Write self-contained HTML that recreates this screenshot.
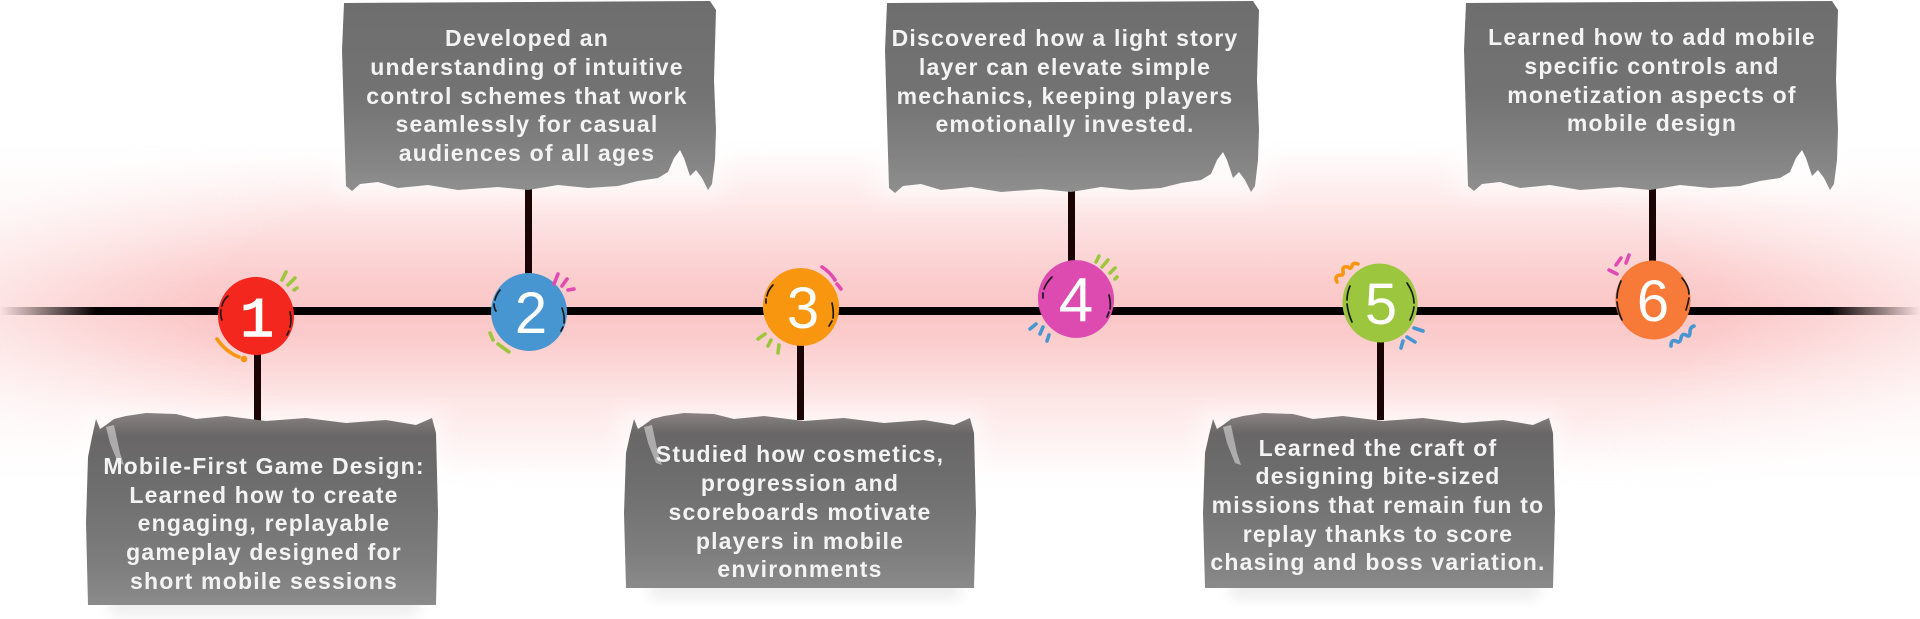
<!DOCTYPE html>
<html><head><meta charset="utf-8"><style>
html,body{margin:0;padding:0;background:#fff;width:1920px;height:619px;overflow:hidden}
svg{display:block}
.t{font-family:"Liberation Sans",Arial,sans-serif;font-weight:bold;font-size:23px;letter-spacing:1.2px;fill:#f3f3f3;text-anchor:middle}
.d{font-family:"Liberation Sans",Arial,sans-serif;font-size:58px;fill:#fff;text-anchor:middle}
.k{stroke:#1a1a1a;stroke-width:1.7;fill:none;stroke-linecap:round}
.dec{fill:none;stroke-width:3.6;stroke-linecap:round;stroke-linejoin:round}
</style></head><body>
<svg width="1920" height="619" viewBox="0 0 1920 619" xmlns="http://www.w3.org/2000/svg">
<defs>
  <linearGradient id="gv" gradientUnits="userSpaceOnUse" x1="0" y1="140" x2="0" y2="490">
    <stop offset="0" stop-color="#fbc6c6" stop-opacity="0"/>
    <stop offset="0.03" stop-color="#fbc6c6" stop-opacity="0.03"/>
    <stop offset="0.23" stop-color="#fbc6c6" stop-opacity="0.5"/>
    <stop offset="0.40" stop-color="#fbc6c6" stop-opacity="0.88"/>
    <stop offset="0.49" stop-color="#fbc6c6" stop-opacity="1"/>
    <stop offset="0.57" stop-color="#fbc6c6" stop-opacity="0.88"/>
    <stop offset="0.74" stop-color="#fbc6c6" stop-opacity="0.45"/>
    <stop offset="0.97" stop-color="#fbc6c6" stop-opacity="0.02"/>
    <stop offset="1" stop-color="#fbc6c6" stop-opacity="0"/>
  </linearGradient>
  <radialGradient id="gh" gradientUnits="userSpaceOnUse" cx="960" cy="311" r="1050" gradientTransform="translate(960 311) scale(1 0.25) translate(-960 -311)">
    <stop offset="0" stop-color="#fff" stop-opacity="1"/>
    <stop offset="0.72" stop-color="#fff" stop-opacity="1"/>
    <stop offset="1" stop-color="#fff" stop-opacity="0.3"/>
  </radialGradient>
  <mask id="mh"><rect width="1920" height="619" fill="url(#gh)"/></mask>
  <linearGradient id="ln" gradientUnits="userSpaceOnUse" x1="0" y1="0" x2="1920" y2="0">
    <stop offset="0" stop-color="#050000" stop-opacity="0"/>
    <stop offset="0.05" stop-color="#050000" stop-opacity="1"/>
    <stop offset="0.953" stop-color="#050000" stop-opacity="1"/>
    <stop offset="1" stop-color="#050000" stop-opacity="0"/>
  </linearGradient>
  <linearGradient id="gt" x1="0" y1="0" x2="0" y2="1">
    <stop offset="0" stop-color="#6e6e6e"/>
    <stop offset="0.5" stop-color="#737373"/>
    <stop offset="0.82" stop-color="#838383"/>
    <stop offset="1" stop-color="#8f8f8f"/>
  </linearGradient>
  <linearGradient id="gb" x1="0" y1="0" x2="0" y2="1">
    <stop offset="0" stop-color="#8a8282"/>
    <stop offset="0.12" stop-color="#686666"/>
    <stop offset="0.45" stop-color="#707070"/>
    <stop offset="0.8" stop-color="#7e7e7e"/>
    <stop offset="1" stop-color="#8a8a8a"/>
  </linearGradient>
  <filter id="bl" x="-20%" y="-30%" width="140%" height="160%"><feGaussianBlur stdDeviation="10"/></filter>
  <filter id="bl2" x="-20%" y="-100%" width="140%" height="300%"><feGaussianBlur stdDeviation="7"/></filter>
</defs>

<!-- pink glow -->
<rect x="0" y="0" width="1920" height="619" fill="url(#gv)" mask="url(#mh)"/>

<!-- white halos behind boxes -->
<g fill="#fff" opacity="0.55" filter="url(#bl)">
  <rect x="80" y="410" width="365" height="200"/>
  <rect x="618" y="410" width="365" height="185"/>
  <rect x="1197" y="410" width="365" height="185"/>
  <rect x="332" y="0" width="392" height="196"/>
  <rect x="875" y="0" width="392" height="198"/>
  <rect x="1454" y="0" width="392" height="194"/>
</g>
<!-- soft shadows under bottom boxes -->
<g fill="#000" opacity="0.08" filter="url(#bl2)">
  <rect x="110" y="598" width="310" height="16"/>
  <rect x="650" y="582" width="310" height="16"/>
  <rect x="1230" y="582" width="310" height="16"/>
</g>

<!-- main line -->
<rect x="0" y="307" width="1920" height="8" fill="url(#ln)"/>

<!-- connectors -->
<g fill="#1b0404">
  <rect x="254" y="340" width="7" height="88"/>
  <rect x="525" y="180" width="7" height="100"/>
  <rect x="797" y="335" width="7" height="85"/>
  <rect x="1068" y="166" width="7" height="100"/>
  <rect x="1377" y="335" width="7" height="85"/>
  <rect x="1649" y="177" width="7" height="90"/>
</g>

<!-- top boxes -->
<g fill="url(#gt)">
  <path transform="translate(338,0)" d="M6,3 L372,1 L378,10 L376,80 L378,130 L377,160 L374,184 L370,190 L364,178 L358,170 L352,176 L346,158 L342,150 L336,158 L330,172 L320,178 L300,181 L280,186 L250,188 L220,185 L190,190 L160,187 L120,190 L90,185 L60,188 L40,182 L22,184 L14,191 L8,186 L6,120 L4,50 Z"/>
  <path transform="translate(881,0)" d="M6,3 L372,1 L378,10 L376,80 L378,130 L377,160 L374,186 L370,192 L364,180 L358,172 L352,178 L346,160 L342,152 L336,160 L330,174 L320,180 L300,183 L280,188 L250,190 L220,187 L190,192 L160,189 L120,192 L90,187 L60,190 L40,184 L22,186 L14,193 L8,188 L6,120 L4,50 Z"/>
  <path transform="translate(1460,0)" d="M6,3 L372,1 L378,10 L376,80 L378,130 L377,160 L374,184 L370,190 L364,178 L358,170 L352,176 L346,158 L342,150 L336,158 L330,172 L320,178 L300,181 L280,186 L250,188 L220,185 L190,190 L160,187 L120,190 L90,185 L60,188 L40,182 L22,184 L14,191 L8,186 L6,120 L4,50 Z"/>
</g>

<!-- bottom boxes -->
<g fill="url(#gb)">
  <path transform="translate(86,413)" d="M2,192 L0,110 L2,44 L6,24 L10,6 L14,16 L20,12 L28,6 L40,3 L60,0 L90,1 L110,6 L140,3 L180,8 L220,5 L260,10 L300,7 L330,12 L346,5 L350,20 L352,100 L350,192 Z"/>
  <path transform="translate(624,413)" d="M2,175 L0,100 L2,40 L6,22 L10,6 L14,16 L20,12 L28,6 L40,3 L60,0 L90,1 L110,6 L140,3 L180,8 L220,5 L260,10 L300,7 L330,12 L346,5 L350,20 L352,100 L350,175 Z"/>
  <path transform="translate(1203,413)" d="M2,175 L0,100 L2,40 L6,22 L10,6 L14,16 L20,12 L28,6 L40,3 L60,0 L90,1 L110,6 L140,3 L180,8 L220,5 L260,10 L300,7 L330,12 L346,5 L350,20 L352,100 L350,175 Z"/>
</g>
<!-- white streaks in bottom boxes -->
<g fill="#fff" opacity="0.45">
  <path transform="translate(86,413)" d="M20,14 L28,12 L34,40 L38,52 L32,50 L24,30 Z"/>
  <path transform="translate(624,413)" d="M20,14 L28,12 L34,40 L38,52 L32,50 L24,30 Z"/>
  <path transform="translate(1203,413)" d="M20,14 L28,12 L34,40 L38,52 L32,50 L24,30 Z"/>
</g>

<!-- box texts -->
<text class="t" x="264" y="474">Mobile-First Game Design:</text>
<text class="t" x="264" y="503">Learned how to create</text>
<text class="t" x="264" y="531">engaging, replayable</text>
<text class="t" x="264" y="560">gameplay designed for</text>
<text class="t" x="264" y="589">short mobile sessions</text>

<text class="t" x="527" y="46">Developed an</text>
<text class="t" x="527" y="75">understanding of intuitive</text>
<text class="t" x="527" y="104">control schemes that work</text>
<text class="t" x="527" y="132">seamlessly for casual</text>
<text class="t" x="527" y="161">audiences of all ages</text>

<text class="t" x="800" y="462">Studied how cosmetics,</text>
<text class="t" x="800" y="491">progression and</text>
<text class="t" x="800" y="520">scoreboards motivate</text>
<text class="t" x="800" y="549">players in mobile</text>
<text class="t" x="800" y="577">environments</text>

<text class="t" x="1065" y="46">Discovered how a light story</text>
<text class="t" x="1065" y="75">layer can elevate simple</text>
<text class="t" x="1065" y="104">mechanics, keeping players</text>
<text class="t" x="1065" y="132">emotionally invested.</text>

<text class="t" x="1378" y="456">Learned the craft of</text>
<text class="t" x="1378" y="484">designing bite-sized</text>
<text class="t" x="1378" y="513">missions that remain fun to</text>
<text class="t" x="1378" y="542">replay thanks to score</text>
<text class="t" x="1378" y="570">chasing and boss variation.</text>

<text class="t" x="1652" y="45">Learned how to add mobile</text>
<text class="t" x="1652" y="74">specific controls and</text>
<text class="t" x="1652" y="103">monetization aspects of</text>
<text class="t" x="1652" y="131">mobile design</text>

<!-- nodes -->
<ellipse cx="256" cy="316" rx="38" ry="39" fill="#f4271f" transform="rotate(-10 256 316)"/>
<ellipse cx="529" cy="312" rx="38" ry="39" fill="#4796d1" transform="rotate(-10 529 312)"/>
<ellipse cx="801" cy="307" rx="38" ry="39" fill="#f8960f" transform="rotate(-20 801 307)"/>
<ellipse cx="1076" cy="299" rx="38" ry="39" fill="#dd4bb1" transform="rotate(-15 1076 299)"/>
<ellipse cx="1380" cy="303" rx="37.5" ry="39.5" fill="#9cc63d" transform="rotate(-8 1380 303)"/>
<ellipse cx="1653" cy="300" rx="37.5" ry="39.5" fill="#f77a38" transform="rotate(-8 1653 300)"/>

<text class="d" x="257" y="336" style="font-family:'Liberation Mono',monospace;font-size:56px;stroke:#fff;stroke-width:1.5">1</text>
<text class="d" x="531" y="333">2</text>
<text class="d" x="803" y="328">3</text>
<text class="d" x="1076" y="321" style="font-size:62px">4</text>
<text class="d" x="1381" y="324">5</text>
<text class="d" x="1653" y="321">6</text>

<!-- inner black dashes -->
<g class="k">
  <path d="M228,296 Q223,300 222,306 M221,310 Q220,315 222,320"/>
  <path d="M290,312 Q292,320 290,327 M289,331 L287,335"/>
  <path d="M500,290 Q496,295 495,300 M494,304 Q494,308 496,311"/>
  <path d="M562,308 Q565,316 564,323 M563,327 L561,331"/>
  <path d="M773,285 Q768,290 767,296 M766,299 L766,303"/>
  <path d="M832,303 Q834,312 833,318 M832,321 L829,326"/>
  <path d="M1052,277 Q1046,283 1044,289 M1043,293 L1043,298"/>
  <path d="M1109,295 Q1111,303 1110,309 M1109,312 L1107,317"/>
  <path d="M1350,286 Q1347,293 1347,300 M1347,304 Q1348,313 1352,322"/>
  <path d="M1407,283 Q1414,293 1414,303 M1414,307 Q1413,314 1410,320"/>
  <path d="M1621,281 Q1617,290 1617,298 M1617,302 Q1618,312 1622,320"/>
  <path d="M1682,278 Q1689,286 1689,294 M1689,298 Q1688,304 1686,310"/>
</g>

<!-- decorations -->
<g class="dec">
  <path stroke="#9cc63d" d="M282,280 L286,272 M288,285 L295,278 M294,290 L297,288"/>
  <path stroke="#f8960f" d="M217,339 Q226,352 239,357"/>
  <circle cx="244" cy="359" r="1.5" fill="#f8960f" stroke="#f8960f"/>
  <path stroke="#e14bb1" d="M554,284 L558,274 M562,286 L567,279 M568,290 L574,289"/>
  <path stroke="#9cc63d" d="M490,333 L493,340 M498,344 L509,352"/>
  <path stroke="#e14bb1" d="M822,267 Q830,272 835,280 M837,284 L841,289"/>
  <path stroke="#9cc63d" d="M758,339 L765,334 M768,346 L771,340 M778,353 L779,345"/>
  <path stroke="#9cc63d" d="M1096,262 L1099,256 M1102,267 L1108,260 M1110,273 L1115,268 M1115,279 L1117,277"/>
  <path stroke="#4796d1" d="M1030,329 L1036,324 M1040,334 L1043,327 M1047,341 L1049,335"/>
  <path stroke="#f8960f" d="M1337,282 Q1334,276 1340,275 Q1344,276 1343,271 Q1342,266 1348,267 Q1351,270 1352,266 Q1353,262 1358,264"/>
  <path stroke="#4796d1" d="M1401,348 L1403,341 M1407,337 L1415,342 M1414,328 L1423,331"/>
  <path stroke="#e14bb1" d="M1609,270 L1617,274 M1616,265 L1621,258 M1626,263 L1629,255"/>
  <path stroke="#4796d1" d="M1671,346 Q1671,339 1676,341 Q1680,344 1681,338 Q1682,333 1686,335 Q1690,338 1690,332 Q1690,327 1694,326"/>
</g>
</svg>
</body></html>
